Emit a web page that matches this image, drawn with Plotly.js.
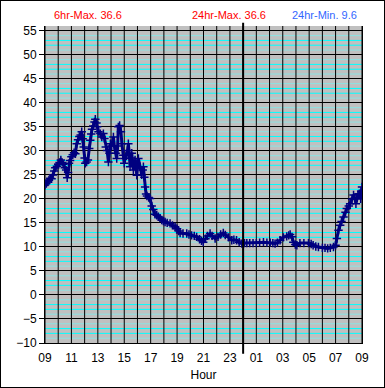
<!DOCTYPE html>
<html>
<head>
<meta charset="utf-8">
<script src="https://cdn.plot.ly/plotly-3.0.1.min.js"></script>
<style>
html,body{margin:0;padding:0;background:#fff;}
#chart{width:383px;height:386px;border:1px solid #000;}
</style>
</head>
<body>
<div id="chart"></div>
<script>
// Hours elapsed since 09:00
const hours = [
0.00,0.10,0.20,0.30,0.40,0.50,0.60,0.70,0.78,0.90,1.00,1.10,1.20,1.30,1.40,1.50,1.60,1.68,1.75,1.82,1.90,
2.00,2.10,2.20,2.30,2.40,2.50,2.60,2.70,2.78,2.85,2.93,3.00,3.05,3.15,3.25,3.35,3.43,3.50,3.56,3.65,3.75,
3.81,3.90,3.95,4.05,4.19,4.30,4.42,4.50,4.60,4.70,4.80,4.88,4.95,5.05,5.18,5.25,5.35,5.43,5.50,5.55,5.65,
5.75,5.82,5.93,6.00,6.06,6.15,6.25,6.31,6.38,6.44,6.50,6.57,6.69,6.82,6.95,7.07,7.20,7.32,7.40,7.45,7.52,
7.58,7.65,7.72,7.85,7.95,8.08,8.20,8.33,8.46,8.58,8.71,8.84,8.96,9.09,9.25,9.47,9.65,9.85,10.00,10.12,10.23,
10.45,10.73,10.90,11.10,11.30,11.48,11.70,11.85,11.98,12.15,12.30,12.50,12.65,12.88,13.10,13.30,13.50,13.65,
13.89,14.14,14.30,14.50,14.70,14.90,15.10,15.28,15.50,15.75,16.00,16.25,16.54,16.80,17.05,17.25,17.42,17.60,
17.80,18.05,18.30,18.45,18.56,18.70,18.80,18.95,19.07,19.30,19.60,19.95,20.15,20.30,20.50,20.70,21.00,21.20,
21.40,21.60,21.84,22.00,22.10,22.22,22.35,22.45,22.60,22.75,22.85,23.00,23.10,23.25,23.36,23.45,23.54,23.62,
23.70,23.80,23.90,23.95,24.00
];
const temps = [
22.9,23.2,23.5,23.9,24.3,24.2,25.0,25.8,26.5,26.8,27.2,27.6,28.1,27.6,27.2,26.5,26.0,24.4,25.5,27.4,28.0,
28.8,29.2,29.6,29.4,31.5,32.3,33.0,33.3,34.0,32.5,30.8,28.5,27.4,27.7,28.1,30.5,32.2,33.5,34.5,35.2,36.0,
36.6,35.8,35.0,34.0,33.6,32.9,33.6,32.6,30.8,30.1,27.7,29.5,31.5,31.0,32.9,31.0,29.5,28.4,31.0,35.0,35.3,
34.0,31.5,29.1,27.4,28.4,29.0,30.1,31.5,29.5,26.7,28.5,29.5,26.0,28.1,24.9,28.4,26.7,25.0,26.0,26.7,24.5,
22.5,21.0,20.6,20.3,20.1,18.5,17.8,16.8,16.6,16.3,16.0,15.6,15.4,15.2,15.0,14.9,14.5,14.2,13.8,13.3,12.9,
12.8,12.8,12.6,12.4,12.3,12.1,11.6,11.3,11.0,11.7,12.3,12.8,12.3,11.75,12.1,12.6,12.9,12.5,
12.0,11.4,11.5,11.4,11.0,10.7,10.8,10.8,10.8,10.8,10.8,10.9,11.0,10.9,10.9,10.8,10.7,10.9,
11.4,12.0,12.2,12.4,12.6,12.1,11.0,10.5,10.35,10.8,10.8,10.8,10.6,10.35,10.1,10.0,9.8,9.8,
9.7,9.8,10.0,10.35,11.75,13.5,14.5,15.3,16.25,17.2,18.0,18.5,19.0,20.0,20.8,20.2,19.0,20.2,
21.0,21.1,20.0,21.5,22.5
];
const xTickVals = [0,2,4,6,8,10,12,14,16,18,20,22,24];
const xTickText = ['09','11','13','15','17','19','21','23','01','03','05','07','09'];
const yTickVals = [-10,-5,0,5,10,15,20,25,30,35,40,45,50,55];
const midnightHour = 15;
const headerTexts = ['6hr-Max. 36.6','24hr-Max. 36.6','24hr-Min. 9.6'];
const headerColors = ['#FF0000','#FF0000','#3366FF'];
const headerX = [0.136,0.58,0.881];

// Grid decoration: minor horizontal lines (pale at +1,+4, bright at +2,+3 in each 5-unit band),
// then hourly vertical lines on top of them.
const shapes = [];
for (let b = -10; b < 56; b += 5) {
  [1,2,3,4].forEach(o => {
    if (b + o < 56) {
      const bright = (o === 2 || o === 3);
      shapes.push({type: 'line', layer: 'between', xref: 'paper', yref: 'y', x0: 0, x1: 1, y0: b+o, y1: b+o,
                   line: {color: bright ? '#00FFFF' : '#8CE3E3', width: 1}});
    }
  });
}
for (let h = 0; h <= 24; h++) {
  shapes.push({type: 'line', layer: 'between', xref: 'x', yref: 'paper', x0: h, x1: h, y0: 0, y1: 1,
               line: {color: '#000000', width: 1}});
}
shapes.push({type: 'line', xref: 'x', yref: 'paper', x0: midnightHour, x1: midnightHour,
             y0: -0.034, y1: 1.01, line: {color: '#000', width: 2}});

const trace = {
  x: hours, y: temps, type: 'scatter', mode: 'lines+markers',
  line: {color: '#000080', width: 3},
  marker: {symbol: 'cross-thin', size: 6, color: '#000080', line: {color: '#000080', width: 1.5}},
  hoverinfo: 'skip', showlegend: false
};

const layout = {
  width: 383, height: 386,
  margin: {l: 44, r: 22, t: 25, b: 44, pad: 0},
  paper_bgcolor: '#FFFFFF', plot_bgcolor: '#C0C0C0',
  font: {family: 'Arial, "Liberation Sans", sans-serif', size: 12, color: '#000'},
  showlegend: false,
  xaxis: {
    range: [0, 24], tickmode: 'array', tickvals: xTickVals, ticktext: xTickText,
    showgrid: false, ticks: '', ticklabelstandoff: 4,
    zeroline: false, showline: true, linecolor: '#000', linewidth: 1, mirror: false,
    tickfont: {size: 12}, fixedrange: true,
    title: {text: 'Hour', font: {size: 12}, standoff: 6}
  },
  yaxis: {
    range: [-10, 56], tickmode: 'array', tickvals: yTickVals,
    showgrid: true, gridcolor: '#000000', gridwidth: 1,
    ticks: 'outside', ticklen: 5, tickcolor: '#000', tickwidth: 1,
    zeroline: false, showline: true, linecolor: '#000', linewidth: 1, mirror: true,
    tickfont: {size: 12}, fixedrange: true
  },
  shapes: shapes,
  annotations: headerTexts.map((t, i) => ({
    text: t, xref: 'paper', yref: 'paper', x: headerX[i], y: 1.035,
    xanchor: 'center', yanchor: 'middle', showarrow: false,
    font: {size: 11, color: headerColors[i]}
  }))
};

Plotly.newPlot('chart', [trace], layout, {staticPlot: true, displayModeBar: false});
</script>
</body>
</html>
